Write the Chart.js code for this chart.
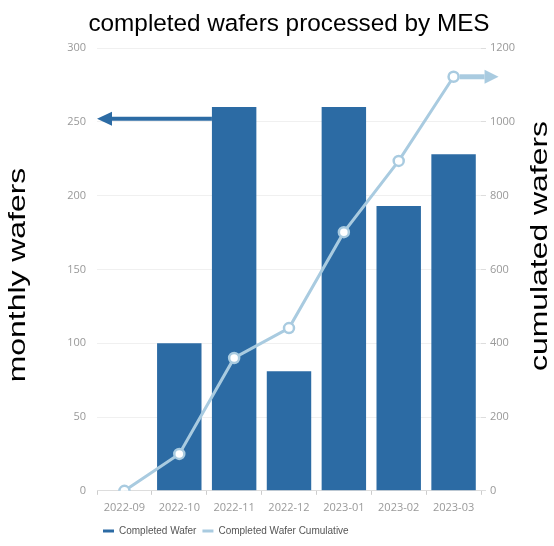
<!DOCTYPE html>
<html>
<head>
<meta charset="utf-8">
<script src="https://cdn.jsdelivr.net/npm/chart.js@4/dist/chart.umd.min.js"></script>
<style>
  html, body { margin: 0; padding: 0; background: #fff; }
  #wrap { width: 554px; height: 546px; }
</style>
</head>
<body>
<div id="wrap"><canvas id="graph"></canvas></div>
<script>
const MONTHS = ["2022-09", "2022-10", "2022-11", "2022-12", "2023-01", "2023-02", "2023-03"];
const MONTHLY = [0, 100, 260, 81, 260, 193, 228];
const CUMULATED = [0, 100, 360, 441, 701, 894, 1122];
const LEFT_TICKS = [0, 50, 100, 150, 200, 250, 300];
const RIGHT_TICKS = [0, 200, 400, 600, 800, 1000, 1200];
const ARROW_VALUE = 252;

const BAR_COLOR = "#2c6ba4";
const LINE_COLOR = "#a9cbe0";
const TICK_FONT = { family: "'Open Sans', sans-serif", size: 11 };
const SIDE_FONT = "24px 'Liberation Sans', Arial, sans-serif";
const TITLE_FONT = "24.3px 'Liberation Sans', Arial, sans-serif";

const drawArrow = (ctx, x0, y, x1, color, width, head, half) => {
    const dir = Math.sign(x1 - x0);
    ctx.save();
    ctx.strokeStyle = color;
    ctx.fillStyle = color;
    ctx.lineWidth = width;
    ctx.beginPath();
    ctx.moveTo(x0, y);
    ctx.lineTo(x1 - dir * head, y);
    ctx.stroke();
    ctx.beginPath();
    ctx.moveTo(x1, y);
    ctx.lineTo(x1 - dir * head, y - half);
    ctx.lineTo(x1 - dir * head, y + half);
    ctx.closePath();
    ctx.fill();
    ctx.restore();
};

// both axis titles read bottom-to-top, slightly stretched like the original
const drawSideTitle = (ctx, text, x, y) => {
    ctx.save();
    ctx.translate(x, y);
    ctx.rotate(-Math.PI / 2);
    ctx.scale(1.33, 1);
    ctx.font = SIDE_FONT;
    ctx.fillStyle = "#000";
    ctx.textAlign = "center";
    ctx.textBaseline = "middle";
    ctx.fillText(text, 0, 0);
    ctx.restore();
};

const annotations = {
    id: "annotations",
    afterDatasetsDraw(chart) {
        const ctx = chart.ctx;
        const bar = chart.getDatasetMeta(0).data[2];
        const ya = chart.scales.y.getPixelForValue(ARROW_VALUE);
        drawArrow(ctx, bar.x - bar.width / 2, ya, chart.chartArea.left, BAR_COLOR, 4, 15, 7);
        const pt = chart.getDatasetMeta(1).data[CUMULATED.length - 1];
        drawArrow(ctx, pt.x + 6, pt.y, pt.x + 45, LINE_COLOR, 5, 14, 7);
    },
    afterDraw(chart) {
        const ctx = chart.ctx;
        const area = chart.chartArea;
        ctx.save();
        ctx.font = TITLE_FONT;
        ctx.fillStyle = "#000";
        ctx.textAlign = "center";
        ctx.textBaseline = "middle";
        ctx.fillText("completed wafers processed by MES", (area.left + area.right) / 2, 24);
        ctx.restore();
        drawSideTitle(ctx, "monthly wafers", 18, 275);
        drawSideTitle(ctx, "cumulated wafers", 540, 246);
    },
};

new Chart(document.getElementById("graph"), {
    data: {
        labels: MONTHS,
        datasets: [
            {
                type: "bar",
                label: "Completed Wafer",
                data: MONTHLY,
                backgroundColor: BAR_COLOR,
                barPercentage: 0.9,
                categoryPercentage: 0.9,
                yAxisID: "y",
                order: 2,
            },
            {
                type: "line",
                label: "Completed Wafer Cumulative",
                data: CUMULATED,
                borderColor: LINE_COLOR,
                borderWidth: 3,
                pointRadius: 5,
                pointBackgroundColor: "#fff",
                pointBorderColor: LINE_COLOR,
                pointBorderWidth: 2.5,
                tension: 0,
                yAxisID: "y1",
                order: 1,
            },
        ],
    },
    options: {
        responsive: true,
        maintainAspectRatio: false,
        animation: false,
        layout: { padding: { left: 0, right: 0, top: 48, bottom: 0 } },
        plugins: {
            tooltip: { enabled: false },
            title: { display: false },
            legend: {
                position: "bottom",
                align: "start",
                fullSize: false,
                labels: {
                    color: "#555",
                    font: { family: "'Liberation Sans', sans-serif", size: 10 },
                    usePointStyle: true,
                    pointStyleWidth: 11,
                    padding: 6,
                    generateLabels: (chart) =>
                        chart.data.datasets.map((ds, i) => ({
                            text: ds.label,
                            datasetIndex: i,
                            pointStyle: "line",
                            strokeStyle: i === 0 ? BAR_COLOR : LINE_COLOR,
                            fillStyle: i === 0 ? BAR_COLOR : LINE_COLOR,
                            lineWidth: 3,
                            fontColor: "#555",
                        })),
                },
            },
        },
        scales: {
            x: {
                grid: { display: true, drawOnChartArea: false, tickLength: 4, color: "#ccc" },
                border: { color: "#ddd" },
                ticks: { color: "#999", font: TICK_FONT, maxRotation: 0, autoSkip: false, padding: 6 },
            },
            y: {
                position: "left",
                min: 0,
                max: 300,
                afterBuildTicks: (s) => { s.ticks = LEFT_TICKS.map((v) => ({ value: v })); },
                afterFit: (s) => { s.width = 97; },
                grid: { color: "#f0f0f0", drawTicks: false },
                border: { display: false },
                ticks: { color: "#999", font: TICK_FONT, padding: 11 },
            },
            y1: {
                position: "right",
                min: 0,
                max: 1200,
                afterBuildTicks: (s) => { s.ticks = RIGHT_TICKS.map((v) => ({ value: v })); },
                afterFit: (s) => { s.width = 73; },
                grid: { drawOnChartArea: false, tickLength: 5, color: "#ddd" },
                border: { display: false },
                ticks: { color: "#999", font: TICK_FONT, padding: 4, callback: (v) => String(v) },
            },
        },
    },
    plugins: [annotations],
});
</script>
</body>
</html>
